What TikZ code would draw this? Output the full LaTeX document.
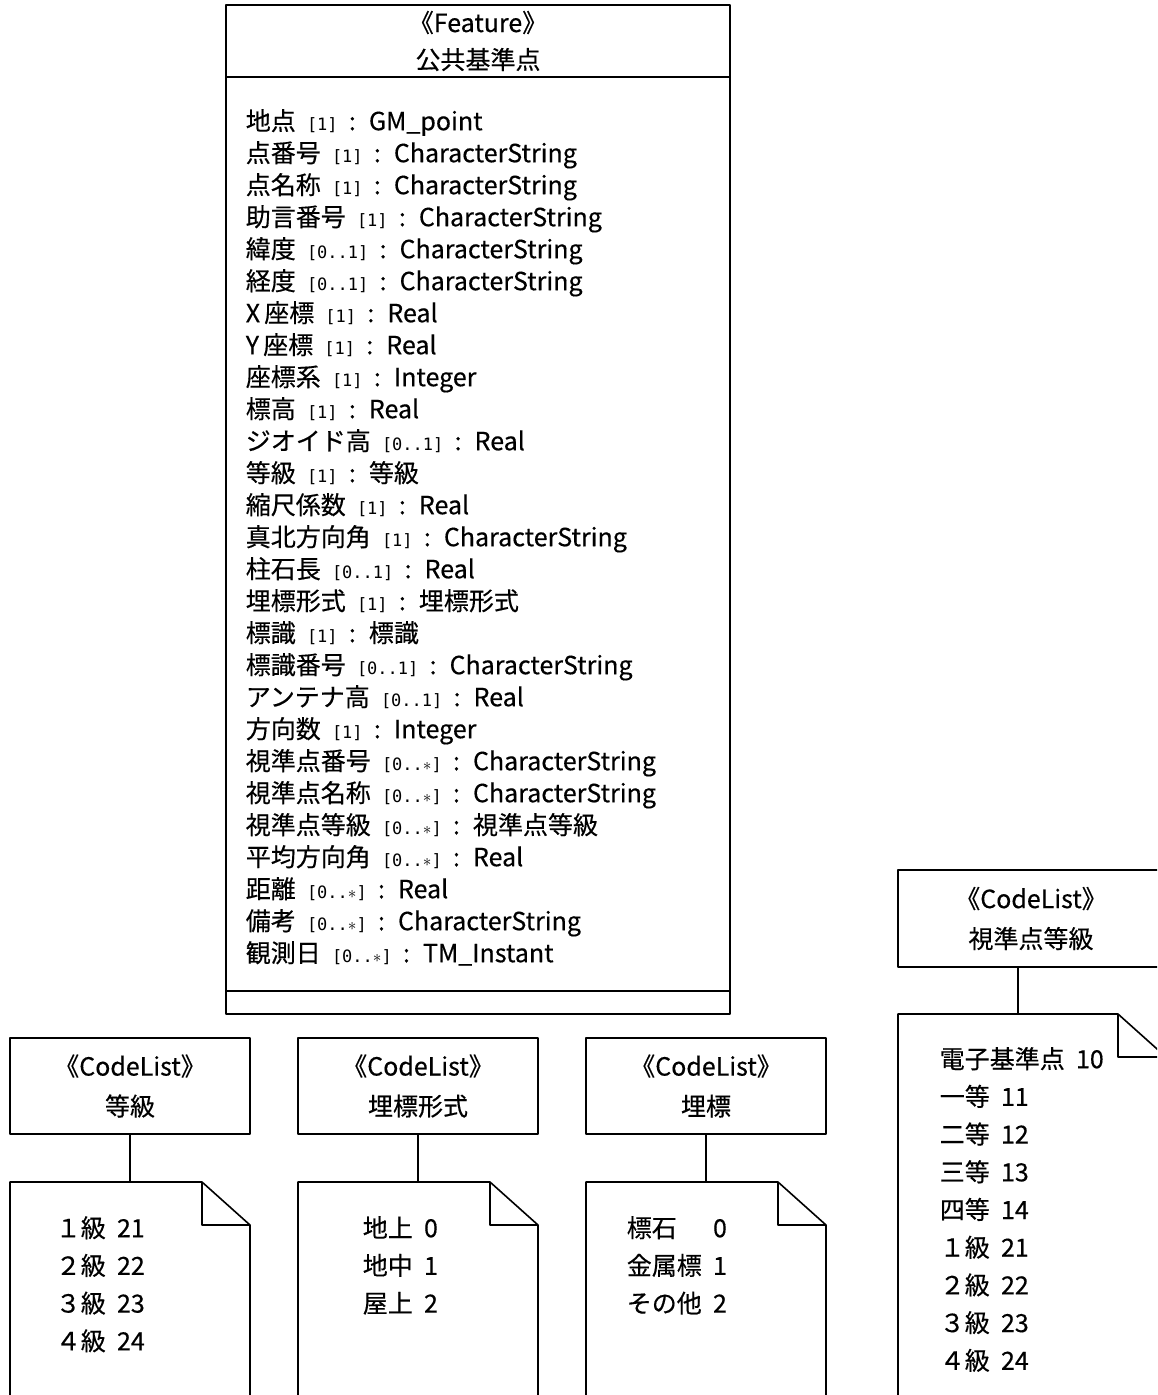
\documentclass[tikz,border=0pt]{standalone}
\usepackage{fontspec}
\setmainfont{Noto Sans CJK JP}[WordSpace=2.0, FakeBold=0.4]
\newfontfamily\multfont{DejaVu Sans Mono}
\newcommand{\mult}[1]{{\multfont\fontsize{17}{17}\selectfont[#1]}}
\begin{document}
\begin{tikzpicture}[x=1pt, y=-1pt, line width=1.6pt, line join=round,
	font=\fontsize{25}{32}\selectfont,
	umlbox/.style={draw, inner sep=0pt, align=center},
	codelist/.style={umlbox, minimum width=240pt, minimum height=96pt, font=\fontsize{25}{40}\selectfont},
	txt/.style={inner sep=0pt, anchor=north west},
	vals/.style={txt, font=\fontsize{25}{37.7}\selectfont}]
	\clip (0,0) rectangle (1157,1395);
	% feature class
	\node[umlbox, minimum width=504pt, minimum height=72pt, font=\fontsize{25}{37}\selectfont] (feat) at (478,41) {《Feature》\\公共基準点};
	\node[umlbox, minimum width=504pt, minimum height=914pt] (featattr) at (478,534) {};
	\node[umlbox, minimum width=504pt, minimum height=23pt] (featop) at (478,1002.5) {};
	\node[txt] (attrs) at (245,107) {\begin{tabular}{@{}l@{}}
		地点 \mult{1} : GM\_point\\
		点番号 \mult{1} : CharacterString\\
		点名称 \mult{1} : CharacterString\\
		助言番号 \mult{1} : CharacterString\\
		緯度 \mult{0..1} : CharacterString\\
		経度 \mult{0..1} : CharacterString\\
		X\,座標 \mult{1} : Real\\
		Y\,座標 \mult{1} : Real\\
		座標系 \mult{1} : Integer\\
		標高 \mult{1} : Real\\
		ジオイド高 \mult{0..1} : Real\\
		等級 \mult{1} : 等級\\
		縮尺係数 \mult{1} : Real\\
		真北方向角 \mult{1} : CharacterString\\
		柱石長 \mult{0..1} : Real\\
		埋標形式 \mult{1} : 埋標形式\\
		標識 \mult{1} : 標識\\
		標識番号 \mult{0..1} : CharacterString\\
		アンテナ高 \mult{0..1} : Real\\
		方向数 \mult{1} : Integer\\
		視準点番号 \mult{0..$\ast$} : CharacterString\\
		視準点名称 \mult{0..$\ast$} : CharacterString\\
		視準点等級 \mult{0..$\ast$} : 視準点等級\\
		平均方向角 \mult{0..$\ast$} : Real\\
		距離 \mult{0..$\ast$} : Real\\
		備考 \mult{0..$\ast$} : CharacterString\\
		観測日 \mult{0..$\ast$} : TM\_Instant
	\end{tabular}};
	% code lists
	\node[codelist] (gkbox) at (130,1086) {《CodeList》\\等級};
	\node[codelist] (mkbox) at (418,1086) {《CodeList》\\埋標形式};
	\node[codelist] (mhbox) at (706,1086) {《CodeList》\\埋標};
	\node[codelist, minimum width=266pt, minimum height=97pt] (vsbox) at (1031,918.5) {《CodeList》\\視準点等級};
	% notes
	\foreach \l/\r/\t in {10/250/1182, 298/538/1182, 586/826/1182, 898/1166/1014}{
		\draw (\l,1400) |- (\r-48,\t) -- (\r,\t+43) -- (\r,1400);
		\draw (\r-48,\t) |- (\r,\t+43);
	}
	\coordinate (gktop) at (130,1182);
	\coordinate (mktop) at (418,1182);
	\coordinate (mhtop) at (706,1182);
	\coordinate (vstop) at (1018,1014);
	\draw (gkbox.south) -- (gktop);
	\draw (mkbox.south) -- (mktop);
	\draw (mhbox.south) -- (mhtop);
	\draw (vsbox.south -| vstop) -- (vstop);
	\node[vals] (gkvals) at (55,1210) {\begin{tabular}{@{}l@{}}１級 21\\２級 22\\３級 23\\４級 24\end{tabular}};
	\node[vals] (mkvals) at (362,1210) {\begin{tabular}{@{}l@{}}地上 0\\地中 1\\屋上 2\end{tabular}};
	\node[vals] (mhvals) at (626,1210) {\begin{tabular}{@{}l@{\ }l@{}}標石 & 0\\金属標 & 1\\その他 & 2\end{tabular}};
	\node[vals] (vsvals) at (939,1041) {\begin{tabular}{@{}l@{}}電子基準点 10\\一等 11\\二等 12\\三等 13\\四等 14\\１級 21\\２級 22\\３級 23\\４級 24\end{tabular}};
\end{tikzpicture}
\end{document}
